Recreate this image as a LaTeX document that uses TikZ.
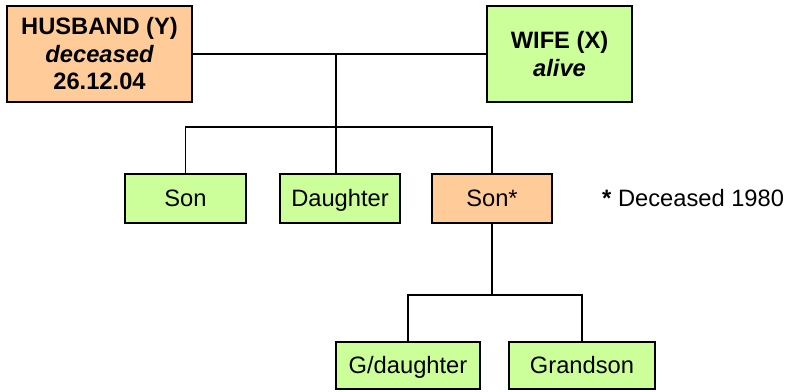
\documentclass[tikz,border=0pt]{standalone}
\usepackage{fontspec}
\setmainfont{Liberation Sans}
\definecolor{deadfill}{HTML}{FFCC99}
\definecolor{alivefill}{HTML}{CCFF99}
\begin{document}
\begin{tikzpicture}[x=1pt,y=-1pt,
  person/.style={draw=black,line width=1.4pt,inner sep=0pt,align=center,
    font=\fontsize{23.7}{27.5}\selectfont},
  alive/.style={person,fill=alivefill},
  dead/.style={person,fill=deadfill},
  single/.style={text height=17pt,text depth=2pt},
  link/.style={draw=black,line width=1.2pt}]
\useasboundingbox (0,0) rectangle (790,391);

% parents
\node[dead,minimum width=185pt,minimum height=96pt] (husband) at (99.5,54)
  {\bfseries HUSBAND (Y)\\\bfseries\itshape deceased\\\bfseries 26.12.04};
\node[alive,minimum width=145pt,minimum height=96pt] (wife) at (559.5,54)
  {\bfseries WIFE (X)\\\bfseries\itshape alive};

% children
\node[alive,single,minimum width=121pt,minimum height=49pt] (son) at (185.5,198.5) {Son};
\node[alive,single,minimum width=120pt,minimum height=49pt] (daughter) at (340,198.5) {Daughter};
\node[dead,single,minimum width=120pt,minimum height=49pt] (sonb) at (492,198.5) {Son*};
\node[font=\fontsize{23.7}{27.5}\selectfont,single,anchor=west,inner sep=0pt] (note) at (602,198.5)
  {\textbf{*} Deceased 1980};

% grandchildren
\node[alive,single,minimum width=144pt,minimum height=47pt] (gdaughter) at (408,365.5) {G/daughter};
\node[alive,single,minimum width=146pt,minimum height=47pt] (gson) at (582,365.5) {Grandson};

% junction points
\coordinate (m1) at (336,54);
\coordinate (m2) at (336,127);
\coordinate (m3) at (492,295);

% marriage line and descent to the children
\draw[link] (husband.east) -- (wife.west);
\draw[link] (m1) -- (m2);
\draw[link] (son.north) |- (m2) -| (sonb.north);
\draw[link] (m2) -- (m2 |- daughter.north);

% descent to the grandchildren
\draw[link] (sonb.south) -- (m3);
\draw[link] (gdaughter.north) |- (m3) -| (gson.north);
\end{tikzpicture}
\end{document}
